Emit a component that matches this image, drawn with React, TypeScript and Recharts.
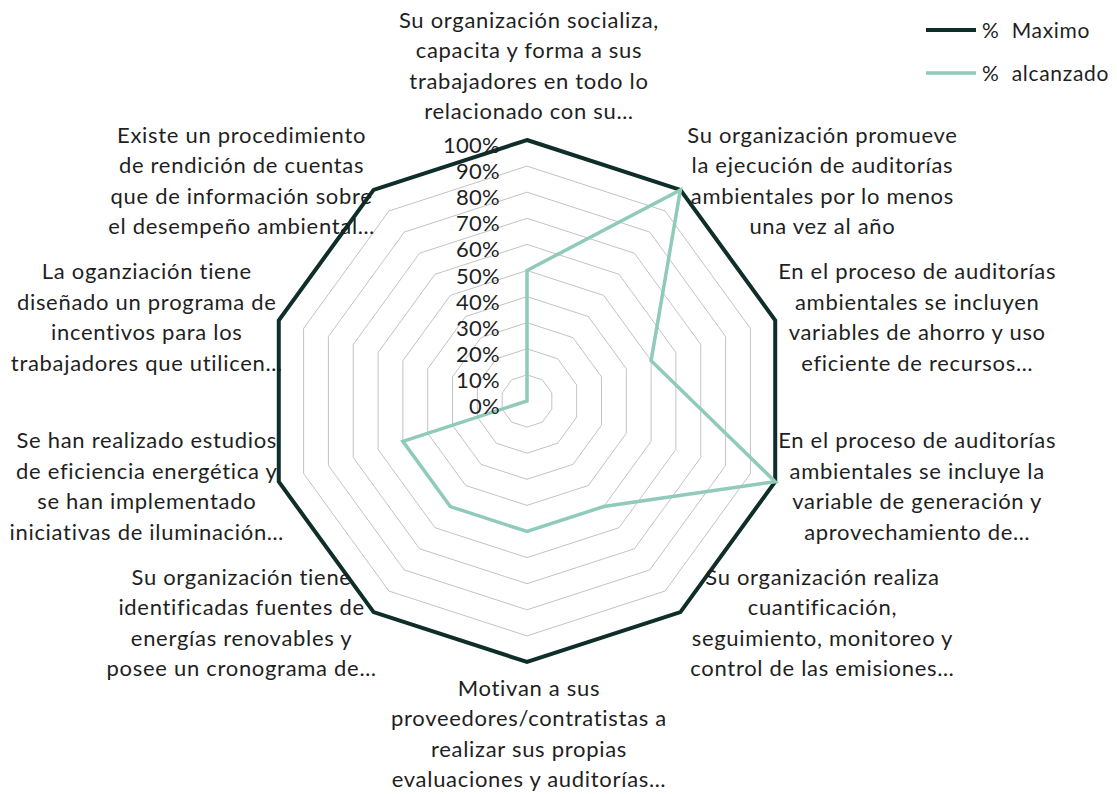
import React from 'react';
import { RadarChart, Radar, PolarGrid, PolarAngleAxis, PolarRadiusAxis, Legend } from 'recharts';

const categories: string[] = [
  'Su organización socializa,\ncapacita y forma a sus\ntrabajadores en todo lo\nrelacionado con su…',
  'Su organización promueve\nla ejecución de auditorías\nambientales por lo menos\nuna vez al año',
  'En el proceso de auditorías\nambientales se incluyen\nvariables de ahorro y uso\neficiente de recursos…',
  'En el proceso de auditorías\nambientales se incluye la\nvariable de generación y\naprovechamiento de…',
  'Su organización realiza\ncuantificación,\nseguimiento, monitoreo y\ncontrol de las emisiones…',
  'Motivan a sus\nproveedores/contratistas a\nrealizar sus propias\nevaluaciones y auditorías…',
  'Su organización tiene\nidentificadas fuentes de\nenergías renovables y\nposee un cronograma de…',
  'Se han realizado estudios\nde eficiencia energética y\nse han implementado\niniciativas de iluminación…',
  'La oganziación tiene\ndiseñado un programa de\nincentivos para los\ntrabajadores que utilicen…',
  'Existe un procedimiento\nde rendición de cuentas\nque de información sobre\nel desempeño ambiental…',
];

const maximo: number[] = [100, 100, 100, 100, 100, 100, 100, 100, 100, 100];
const alcanzado: number[] = [50, 100, 50, 100, 50, 50, 50, 50, 0, 0];

const radiusTicks: number[] = [0, 10, 20, 30, 40, 50, 60, 70, 80, 90, 100];

const seriesNames = { maximo: '% Maximo', alcanzado: '% alcanzado' };
const colors = { maximo: '#0f2e2a', alcanzado: '#8fcaba', grid: '#c3c3c3', text: '#1f1f1f' };

const data = categories.map((c, i) => ({ subject: c, maximo: maximo[i], alcanzado: alcanzado[i] }));

const FONT = 'Lato, "Open Sans", sans-serif';
const LINE_H = 30.5;

const AngleTick = (props: any) => {
  const { x, y, payload } = props;
  const ang = (payload.coordinate * Math.PI) / 180;
  const cos = Math.cos(ang);
  const sin = Math.sin(ang);
  const vx = x - 8 * cos;
  const vy = y + 8 * sin;
  let bx: number;
  let by: number;
  if (Math.abs(cos) > 0.1) {
    bx = vx + Math.sign(cos) * 137 + 5;
    by = vy - sin * 12;
  } else {
    bx = vx + 2;
    by = vy - sin * (sin > 0 ? 75 : 71);
  }
  const lines = String(payload.value).split('\n');
  const y0 = by - ((lines.length - 1) / 2) * LINE_H;
  return (
    <text textAnchor="middle" fontFamily={FONT} fontSize={22} letterSpacing={0.7} fill={colors.text}>
      {lines.map((l, i) => (
        <tspan key={i} x={bx} y={y0 + i * LINE_H} dominantBaseline="central">
          {l}
        </tspan>
      ))}
    </text>
  );
};

const RadiusTick = (props: any) => {
  const { x, y, payload } = props;
  return (
    <text x={x - 27} y={y + 4.5} textAnchor="end" dominantBaseline="central" fontFamily={FONT} fontSize={22} letterSpacing={0.3} fill={colors.text}>
      {`${payload.value}%`}
    </text>
  );
};

const LegendContent = () => {
  const items = [
    { name: seriesNames.maximo, color: colors.maximo, w: 4 },
    { name: seriesNames.alcanzado, color: colors.alcanzado, w: 3.5 },
  ];
  return (
    <div style={{ fontFamily: FONT, fontSize: 21, letterSpacing: 0.7, color: colors.text }}>
      {items.map((it) => (
        <div key={it.name} style={{ display: 'flex', alignItems: 'center', height: 43 }}>
          <svg width={52} height={8} style={{ marginRight: 4 }}>
            <line x1={0} y1={4} x2={50} y2={4} stroke={it.color} strokeWidth={it.w} />
          </svg>
          <span style={{ whiteSpace: 'pre' }}>{it.name.replace(' ', '  ')}</span>
        </div>
      ))}
    </div>
  );
};

export default function App() {
  return (
    <div style={{ position: 'absolute', left: 0, top: 0, width: 1117, height: 794, background: '#fff' }}>
      <RadarChart
        width={1117}
        height={794}
        data={data}
        cx={527}
        cy={401}
        outerRadius={261}
        margin={{ top: 0, right: 0, bottom: 0, left: 0 }}
      >
        <PolarGrid gridType="polygon" radialLines={false} stroke={colors.grid} strokeWidth={1} />
        <PolarAngleAxis dataKey="subject" tick={<AngleTick />} tickLine={false} axisLine={false} />
        <PolarRadiusAxis
          angle={90}
          domain={[0, 100]}
          ticks={radiusTicks as any}
          tickCount={11}
          tick={<RadiusTick />}
          axisLine={false}
          tickLine={false}
        />
        <Radar
          name={seriesNames.maximo}
          dataKey="maximo"
          stroke={colors.maximo}
          strokeWidth={4}
          fill="none"
          fillOpacity={0}
          isAnimationActive={false}
        />
        <Radar
          name={seriesNames.alcanzado}
          dataKey="alcanzado"
          stroke={colors.alcanzado}
          strokeWidth={3.5}
          fill="none"
          fillOpacity={0}
          isAnimationActive={false}
        />
        <Legend
          content={<LegendContent />}
          wrapperStyle={{ position: 'absolute', left: 926, top: 8, width: 190, right: 'auto', bottom: 'auto' }}
        />
      </RadarChart>
    </div>
  );
}
